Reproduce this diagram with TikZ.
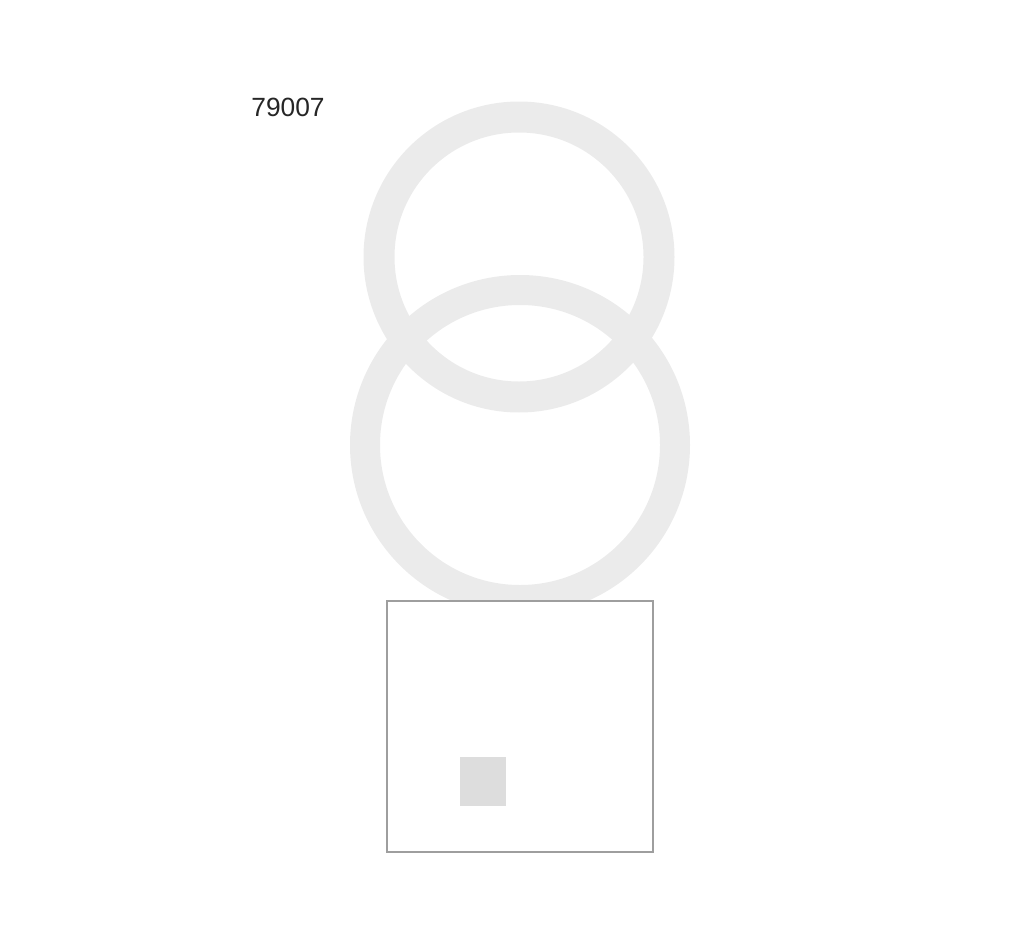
\documentclass[tikz,border=0pt]{standalone}
\usepackage{fontspec}
\setmainfont{Liberation Sans}
\usetikzlibrary{positioning}
\definecolor{ringgray}{HTML}{EBEBEB}
\definecolor{framegray}{HTML}{9E9E9E}
\definecolor{padgray}{HTML}{DDDDDD}

\begin{document}
\begin{tikzpicture}[x=0.02cm,y=-0.02cm]
            \useasboundingbox (0,0) rectangle (1024,946);
            \draw[ringgray,line width=0.62cm] (519,257) circle (140);
            \draw[ringgray,line width=0.6cm] (520,445) circle (155);
            \draw[framegray,fill=white,line width=0.6pt] (387,601) rectangle (653,852);
            \fill[padgray] (460,757) rectangle (506,806);
            \node[anchor=west,inner sep=0pt,text=black!85,font=\fontsize{15}{18}\selectfont] (code) at (251,107) {79007};
        \end{tikzpicture}
\end{document}
